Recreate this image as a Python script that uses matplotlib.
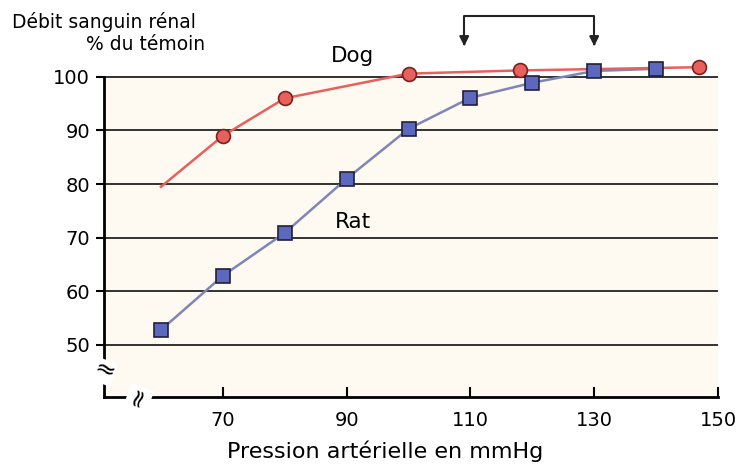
import matplotlib
matplotlib.use("Agg")
import matplotlib.pyplot as plt

plt.rcParams['font.family'] = ['DejaVu Sans']

# values
dog_x = [70, 80, 100, 118, 147]
dog_y = [89, 96, 100.6, 101.2, 101.8]
dog_start = (60, 79.5)          # curve starts without a marker

rat_x = [60, 70, 80, 90, 100, 110, 120, 130, 140]
rat_y = [52.8, 62.9, 70.9, 81.0, 90.3, 96.1, 98.9, 101.1, 101.5]

xticks = [70, 90, 110, 130, 150]
yticks = [50, 60, 70, 80, 90, 100]
bracket = (109, 130)

fig = plt.figure(figsize=(7.42, 4.66), dpi=100)
ax = fig.add_axes([104/742, 69/466, (718-104)/742, 392/466])
ax.set_xlim(50.8, 150)
ax.set_ylim(40.3, 113.4)

ax.axhspan(40.3, 100, color='#fefaf1', zorder=0, lw=0)
for y in yticks:
    ax.plot([50.8, 150], [y, y], color='#222222', lw=1.3, zorder=1)

ax.plot([dog_start[0]] + dog_x, [dog_start[1]] + dog_y, color='#e8605c', lw=1.8, zorder=3)
ax.plot(dog_x, dog_y, 'o', ms=10, mfc='#e8605c', mec='#7a2020', mew=1.2, zorder=4)
ax.plot(rat_x, rat_y, color='#7e86b8', lw=1.8, zorder=2)
ax.plot(rat_x, rat_y, 's', ms=9.5, mfc='#5b68bd', mec='#20203a', mew=1.2, zorder=5)

for s in ['top', 'right']:
    ax.spines[s].set_visible(False)
ax.spines['left'].set_bounds(40.3, 100)
ax.spines['left'].set_linewidth(2)
ax.spines['bottom'].set_linewidth(2)

ax.set_xticks(xticks)
ax.set_yticks(yticks)
ax.tick_params(axis='x', direction='in', length=7, width=1.5, labelsize=14, pad=10)
ax.tick_params(axis='y', direction='out', length=6, width=1.5, labelsize=14, pad=4)

# axis breaks
ax.text(0, 45, '≈', transform=ax.get_yaxis_transform(), ha='center', va='center',
        fontsize=18, rotation=-20, zorder=6,
        bbox=dict(boxstyle='square,pad=0.0', fc='white', ec='none'))
ax.text(56.5, 0, '≈', transform=ax.get_xaxis_transform(), ha='center', va='center',
        fontsize=18, rotation=70, zorder=6,
        bbox=dict(boxstyle='square,pad=0.0', fc='white', ec='none'))

ax.text(91, 103.8, 'Dog', fontsize=15.5, ha='center', va='center')
ax.text(91, 73, 'Rat', fontsize=15.5, ha='center', va='center')

# bracket with arrows above the plateau
ytop, ybot = 111.3, 105.2
ax.plot([bracket[0], bracket[0], bracket[1], bracket[1]], [ybot + 1.5, ytop, ytop, ybot + 1.5],
        color='#222222', lw=1.5, clip_on=False)
for bx in bracket:
    ax.annotate('', xy=(bx, ybot), xytext=(bx, ybot + 1.6),
                arrowprops=dict(arrowstyle='-|>', color='#222222', lw=1.5, mutation_scale=14))

fig.text(12/742, 1 - 22/466, 'Débit sanguin rénal', fontsize=13.5, ha='left', va='center')
fig.text(205/742, 1 - 45/466, '% du témoin', fontsize=13.5, ha='right', va='center')
fig.text(385/742, 1 - 451/466, 'Pression artérielle en mmHg', fontsize=16, ha='center', va='center')

fig.savefig('out.png', dpi=100)
